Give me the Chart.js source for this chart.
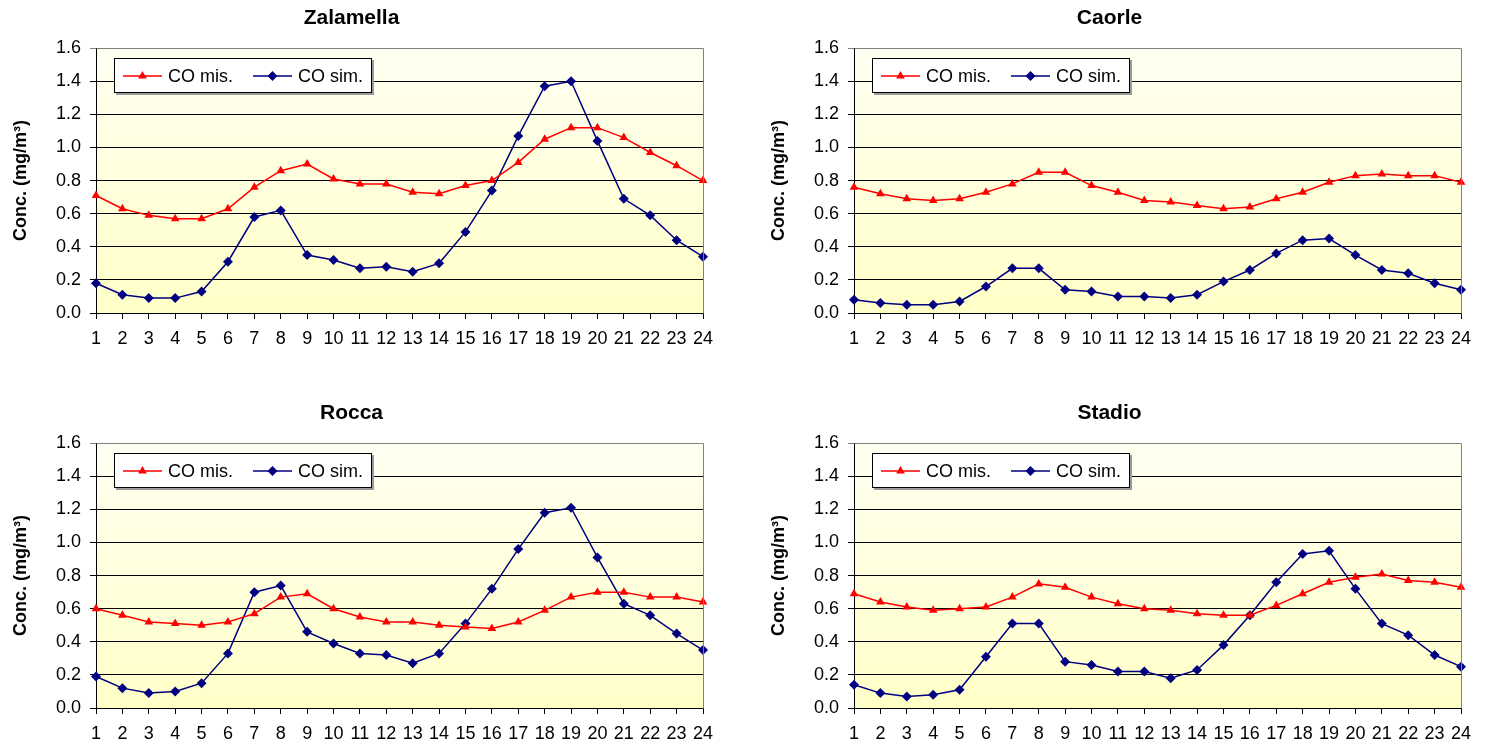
<!DOCTYPE html>
<html>
<head>
<meta charset="utf-8">
<script src="https://cdn.jsdelivr.net/npm/chart.js@4"></script>
<style>
  body { margin: 0; background: #fff; }
  .box { position: absolute; }
</style>
</head>
<body>
<div class="box" style="left:0px;top:0px"><canvas id="c1" width="715" height="350"></canvas></div>
<div class="box" style="left:758px;top:0px"><canvas id="c2" width="715" height="350"></canvas></div>
<div class="box" style="left:0px;top:395px"><canvas id="c3" width="715" height="349"></canvas></div>
<div class="box" style="left:758px;top:395px"><canvas id="c4" width="715" height="349"></canvas></div>
<script>
// ore del giorno
var ore = ['1','2','3','4','5','6','7','8','9','10','11','12','13','14','15','16','17','18','19','20','21','22','23','24'];

// CO misurato / simulato (mg/m3) per stazione
var zalamellaMis = [0.71,0.63,0.59,0.57,0.57,0.63,0.76,0.86,0.90,0.81,0.78,0.78,0.73,0.72,0.77,0.80,0.91,1.05,1.12,1.12,1.06,0.97,0.89,0.80];
var zalamellaSim = [0.18,0.11,0.09,0.09,0.13,0.31,0.58,0.62,0.35,0.32,0.27,0.28,0.25,0.30,0.49,0.74,1.07,1.37,1.40,1.04,0.69,0.59,0.44,0.34];

var caorleMis = [0.76,0.72,0.69,0.68,0.69,0.73,0.78,0.85,0.85,0.77,0.73,0.68,0.67,0.65,0.63,0.64,0.69,0.73,0.79,0.83,0.84,0.83,0.83,0.79];
var caorleSim = [0.08,0.06,0.05,0.05,0.07,0.16,0.27,0.27,0.14,0.13,0.10,0.10,0.09,0.11,0.19,0.26,0.36,0.44,0.45,0.35,0.26,0.24,0.18,0.14];

var roccaMis = [0.60,0.56,0.52,0.51,0.50,0.52,0.57,0.67,0.69,0.60,0.55,0.52,0.52,0.50,0.49,0.48,0.52,0.59,0.67,0.70,0.70,0.67,0.67,0.64];
var roccaSim = [0.19,0.12,0.09,0.10,0.15,0.33,0.70,0.74,0.46,0.39,0.33,0.32,0.27,0.33,0.51,0.72,0.96,1.18,1.21,0.91,0.63,0.56,0.45,0.35];

var stadioMis = [0.69,0.64,0.61,0.59,0.60,0.61,0.67,0.75,0.73,0.67,0.63,0.60,0.59,0.57,0.56,0.56,0.62,0.69,0.76,0.79,0.81,0.77,0.76,0.73];
var stadioSim = [0.14,0.09,0.07,0.08,0.11,0.31,0.51,0.51,0.28,0.26,0.22,0.22,0.18,0.23,0.38,0.56,0.76,0.93,0.95,0.72,0.51,0.44,0.32,0.25];

var yMax = 1.6;
var yStep = 0.2;

Chart.defaults.font.family = "'Liberation Sans', Arial, sans-serif";
Chart.defaults.color = '#000';

// simboli della legenda
function disegnaSimbolo(ctx, tipo, x, y, r, colore) {
  ctx.save();
  ctx.fillStyle = colore;
  ctx.beginPath();
  if (tipo === 'triangle') {
    ctx.moveTo(x, y - r);
    ctx.lineTo(x + r * 0.866, y + r * 0.5);
    ctx.lineTo(x - r * 0.866, y + r * 0.5);
  } else {
    ctx.moveTo(x, y - r);
    ctx.lineTo(x + r, y);
    ctx.lineTo(x, y + r);
    ctx.lineTo(x - r, y);
  }
  ctx.closePath();
  ctx.fill();
  ctx.restore();
}

// sfondo giallo sfumato dell'area del grafico
var sfondo = {
  id: 'sfondo',
  beforeDraw: function(chart) {
    var a = chart.chartArea, ctx = chart.ctx;
    var g = ctx.createLinearGradient(0, a.top, 0, a.bottom);
    g.addColorStop(0, '#FFFFF2');
    g.addColorStop(1, '#FFFFC8');
    ctx.save();
    ctx.fillStyle = g;
    ctx.fillRect(a.left, a.top, a.right - a.left, a.bottom - a.top);
    ctx.restore();
  }
};

// bordo grigio e legenda dentro il grafico
var cornice = {
  id: 'cornice',
  afterDraw: function(chart) {
    var a = chart.chartArea, ctx = chart.ctx;
    ctx.save();
    ctx.strokeStyle = '#808080';
    ctx.lineWidth = 1;
    ctx.beginPath();
    ctx.moveTo(Math.round(a.left) + 0.5, Math.round(a.top) + 0.5);
    ctx.lineTo(Math.round(a.right) + 0.5, Math.round(a.top) + 0.5);
    ctx.lineTo(Math.round(a.right) + 0.5, Math.round(a.bottom) + 0.5);
    ctx.stroke();

    var lx = Math.round(a.left) + 18, ly = Math.round(a.top) + 10, lw = 258, lh = 35;
    ctx.fillStyle = '#9a9a9a';
    ctx.fillRect(lx + 2, ly + 2, lw, lh);
    ctx.fillStyle = '#fff';
    ctx.fillRect(lx, ly, lw, lh);
    ctx.strokeStyle = '#000';
    ctx.strokeRect(lx + 0.5, ly + 0.5, lw - 1, lh - 1);

    var cy = ly + lh / 2 + 0.5;
    var voci = chart.data.datasets;
    var x0 = [lx + 9, lx + 139];
    ctx.font = "18px 'Liberation Sans', Arial, sans-serif";
    ctx.textBaseline = 'middle';
    for (var i = 0; i < voci.length; i++) {
      var d = voci[i];
      ctx.strokeStyle = d.borderColor;
      ctx.lineWidth = 1.5;
      ctx.beginPath();
      ctx.moveTo(x0[i], cy);
      ctx.lineTo(x0[i] + 39, cy);
      ctx.stroke();
      disegnaSimbolo(ctx, d.pointStyle, x0[i] + 19.5, cy, 5, d.borderColor);
      ctx.fillStyle = '#000';
      ctx.fillText(d.label, x0[i] + 45, cy + 1);
    }
    ctx.restore();
  }
};

function creaGrafico(id, titolo, mis, sim, altezza) {
  return new Chart(document.getElementById(id), {
    type: 'line',
    data: {
      labels: ore,
      datasets: [
        {
          label: 'CO mis.',
          data: mis,
          borderColor: '#FF0000',
          backgroundColor: '#FF0000',
          borderWidth: 1.5,
          pointStyle: 'triangle',
          pointRadius: 5,
          pointBorderWidth: 0,
          tension: 0
        },
        {
          label: 'CO sim.',
          data: sim,
          borderColor: '#000080',
          backgroundColor: '#000080',
          borderWidth: 1.5,
          pointStyle: 'rectRot',
          pointRadius: 5,
          pointBorderWidth: 0,
          tension: 0
        }
      ]
    },
    options: {
      responsive: false,
      animation: false,
      layout: { padding: { left: 0, right: 12, top: 0, bottom: 0 } },
      plugins: {
        legend: { display: false },
        tooltip: { enabled: false },
        title: {
          display: true,
          text: titolo,
          color: '#000',
          font: { size: 21, weight: 'bold' },
          padding: { top: 6, bottom: 17 }
        }
      },
      scales: {
        x: {
          offset: false,
          grid: { drawOnChartArea: false, drawTicks: true, tickLength: 6, color: '#000' },
          border: { color: '#000' },
          ticks: { autoSkip: false, maxRotation: 0, minRotation: 0, padding: 9, font: { size: 18 } },
          afterFit: function(s) {
            s.height = altezza - 313;
            s.paddingLeft = 0;
            s.paddingRight = 0;
          }
        },
        y: {
          min: 0,
          max: yMax,
          grid: {
            tickLength: 6,
            color: function(c) { return c.tick && c.tick.value >= yMax ? '#808080' : '#000'; }
          },
          border: { color: '#000' },
          ticks: {
            stepSize: yStep,
            padding: 9,
            font: { size: 18 },
            callback: function(v) { return v.toFixed(1); }
          },
          title: {
            display: true,
            text: 'Conc. (mg/m³)',
            font: { size: 18, weight: 'bold' },
            padding: { top: 10, bottom: 0 }
          },
          afterFit: function(s) { s.width = 96; }
        }
      }
    },
    plugins: [sfondo, cornice]
  });
}

creaGrafico('c1', 'Zalamella', zalamellaMis, zalamellaSim, 350);
creaGrafico('c2', 'Caorle', caorleMis, caorleSim, 350);
creaGrafico('c3', 'Rocca', roccaMis, roccaSim, 349);
creaGrafico('c4', 'Stadio', stadioMis, stadioSim, 349);
</script>
</body>
</html>
